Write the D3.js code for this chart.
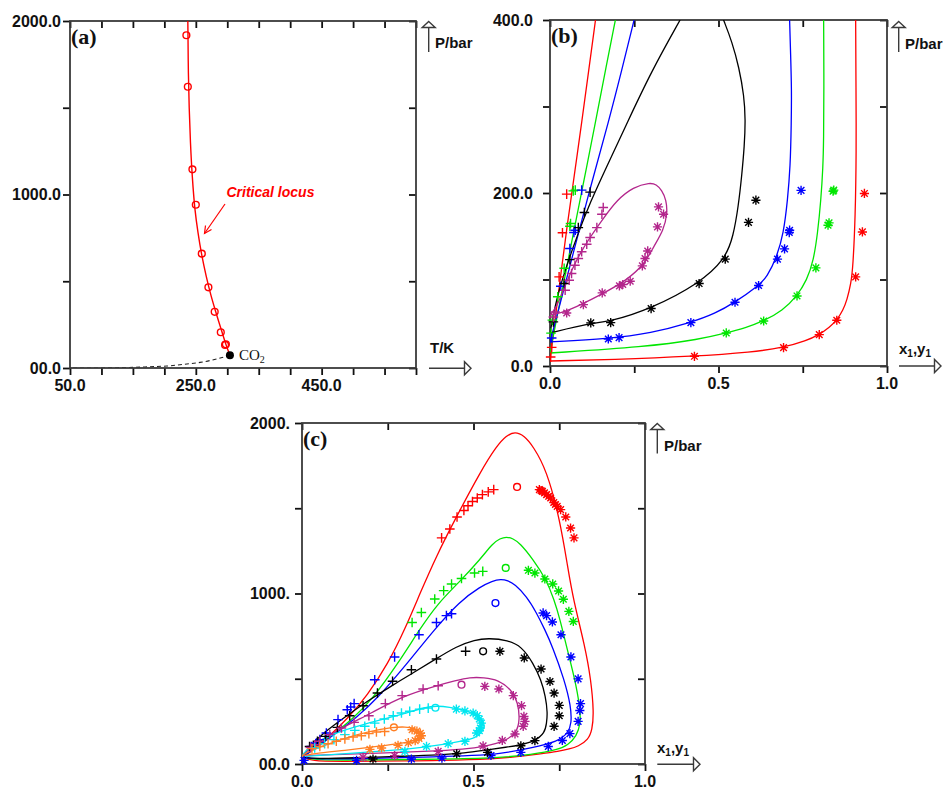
<!DOCTYPE html>
<html>
<head>
<meta charset="utf-8">
<script src="https://cdn.jsdelivr.net/npm/d3@7"></script>
<style>
  body { margin: 0; background: #fff; }
  svg { display: block; }
</style>
</head>
<body>
<svg id="fig" width="943" height="794"></svg>
<script>
// ---------------- Panel (a): critical locus of CO2 + heavy component ----------------
const aCritT = [235, 237.3, 244.6, 250, 259.5, 270, 280, 289.7, 296.5, 297.8];
const aCritP = [1918, 1621, 1145, 941, 659, 465, 324, 206, 133, 137];
const aLocusT = [237.3, 237.6, 238.2, 239.5, 241.5, 244.5, 248.5, 253.5, 259.5, 266.5, 274, 282, 290.5, 297.5, 304.2];
const aLocusP = [2000, 1900, 1700, 1500, 1300, 1100, 920, 780, 650, 530, 420, 320, 220, 140, 73.8];
const aVapT = [304.2, 283.4, 256.8, 230.4, 204, 177.6, 151, 124.6, 98, 50];
const aVapP = [73.8, 51.9, 32.3, 20.8, 11.5, 7.5, 3.5, 1.7, 0.3, 0];
const aCO2 = [304.2, 73.8];
const aXTicks = [50, 100, 150, 200, 250, 300, 350, 400, 450, 500, 550, 600];
const aYTicks = [0, 500, 1000, 1500, 2000];
const aXLabels = [[50, "50.0"], [250, "250.0"], [450, "450.0"]];
const aYLabels = [[0, "00.0"], [1000, "1000.0"], [2000, "2000.0"]];

// ---------------- Panel (b): isotherms, pressure vs. composition ----------------
const bRedDew = [[0,5.8],[0.014,50],[0.03,100],[0.05,160],[0.072,220],[0.095,284],[0.115,342],[0.135,400]];
const bRedBub = [[0,5.8],[0.183,7.4],[0.4286,11.2],[0.6,16],[0.693,21.3],[0.76,29],[0.799,36.3],[0.83,45],[0.851,52.9],[0.87,65],[0.881,76],[0.893,95],[0.899,114.6],[0.906,172],[0.909,250],[0.908,320],[0.907,400]];
const bRedPlus = [[0.002,10.4],[0.005,21.5],[0.027,103],[0.037,154],[0.0495,198.7]];
const bRedStar = [[0.4286,11.2],[0.693,21.3],[0.799,36.3],[0.851,52.9],[0.907,103],[0.927,155],[0.933,199.5]];

const bGreenDew = [[0,15],[0.03,75],[0.06,135],[0.097,207],[0.138,288],[0.166,345],[0.194,400]];
const bGreenBub = [[0,15],[0.282,22],[0.4455,30.9],[0.523,38.2],[0.58,44],[0.634,52],[0.69,64],[0.733,81],[0.762,99],[0.782,122],[0.794,153],[0.804,192],[0.81,230],[0.812,260],[0.813,320],[0.812,400]];
const bGreenPlus = [[0.003,38],[0.007,53],[0.023,80],[0.042,113],[0.059,161.6],[0.061,164.7],[0.069,202.5],[0.075,203.3]];
const bGreenStar = [[0.523,38.2],[0.634,52],[0.733,81],[0.789,113.4],[0.825,162.8],[0.828,165.5],[0.84,202],[0.842,203.3]];

const bBlueDew = [[0,27.8],[0.03,72],[0.066,126],[0.12,207],[0.175,284],[0.213,342],[0.2495,400]];
const bBlueBub = [[0,27.8],[0.173,31.5],[0.3,38],[0.418,50.2],[0.49,60.6],[0.549,73.7],[0.619,93],[0.644,103],[0.673,126],[0.693,153],[0.705,192],[0.713,230],[0.716,280],[0.717,320],[0.714,360],[0.711,400]];
const bBluePlus = [[0.005,32.4],[0.032,92.2],[0.059,135.8],[0.071,154.3],[0.075,157],[0.094,203.3]];
const bBlueStar = [[0.173,31.2],[0.205,32.8],[0.418,50.2],[0.549,73.7],[0.619,93],[0.675,123.5],[0.696,135.4],[0.71,154.3],[0.711,157],[0.745,203]];

const bBlackDew = [[0,38.2],[0.018,76],[0.045,111],[0.08,150],[0.12,190],[0.17,232],[0.23,282],[0.3,340],[0.386,400]];
const bBlackBub = [[0,38.2],[0.121,49.8],[0.18,51.5],[0.3,66.4],[0.4425,95.3],[0.52,123.5],[0.544,150],[0.559,185],[0.569,220],[0.577,255],[0.58,285],[0.576,312],[0.561,345],[0.54,375],[0.515,400]];
const bBlackPlus = [[0.01,51],[0.042,95.3],[0.059,123],[0.084,160],[0.102,177.5],[0.119,201]];
const bBlackStar = [[0.121,49.8],[0.18,50.2],[0.3,66.4],[0.4425,95.3],[0.52,123.5],[0.589,166],[0.611,191.7]];

const bPurpleLoop = [[0,58.7],[0.0495,62.5],[0.158,83.8],[0.228,99.2],[0.282,118.5],[0.307,137.7],[0.337,157],[0.3485,176.3],[0.345,192],[0.332,203.3],[0.315,210],[0.297,212],[0.2475,207],[0.198,191.7],[0.158,170.5],[0.119,149],[0.089,130],[0.064,110.7],[0.0396,87.6],[0.02,68.3],[0,58.7]];
const bPurplePlus = [[0.01,56.7],[0.015,62.5],[0.045,87.6],[0.057,99.2],[0.064,107],[0.074,116.5],[0.084,124.3],[0.094,132],[0.109,140.8],[0.119,148.6],[0.139,160],[0.154,175.5],[0.158,183.3]];
const bPurpleStar = [[0.0495,61.3],[0.099,71],[0.155,84.5],[0.206,92.6],[0.216,94.2],[0.238,98],[0.274,115.7],[0.282,124.3],[0.29,133],[0.319,160.8],[0.337,175.5],[0.322,184]];

const bXTicks = [0, 0.25, 0.5, 0.75, 1];
const bYTicks = [0, 100, 200, 300, 400];
const bXLabels = [[0, "0.0"], [0.5, "0.5"], [1, "1.0"]];
const bYLabels = [[0, "0.0"], [200, "200.0"], [400, "400.0"]];

// ---------------- Panel (c): closed isotherm loops ----------------
const cRedLoop = [[0,40],[0.03,18],[0.1,15],[0.3,17],[0.5,24],[0.62,40],[0.7,60],[0.747,74],[0.78,88],[0.805,103],[0.835,143],[0.846,201],[0.851,299],[0.8425,494],[0.825,690],[0.791,964],[0.775,1150],[0.752,1433],[0.713,1726],[0.674,1863],[0.648,1925],[0.621,1950],[0.595,1925],[0.567,1863],[0.5235,1726],[0.4456,1433],[0.392,1220],[0.346,1010],[0.3,790],[0.251,590],[0.19,400],[0.134,270],[0.086,175],[0.042,100],[0.012,55],[0,40]];
const cGreenLoop = [[0,40],[0.04,22],[0.2,24],[0.4,28],[0.572,35],[0.669,55],[0.747,84],[0.776,113],[0.8,162],[0.813,240],[0.81,338],[0.796,494],[0.771,690],[0.752,850],[0.735,964],[0.712,1082],[0.674,1199],[0.635,1296],[0.615,1322],[0.596,1333],[0.577,1322],[0.557,1296],[0.519,1199],[0.46,1070],[0.395,940],[0.343,790],[0.28,590],[0.205,380],[0.15,270],[0.095,180],[0.045,103],[0.012,55],[0,40]];
const cBlueLoop = [[0,40],[0.04,28],[0.2,33],[0.4,42],[0.5,50],[0.572,58],[0.67,94],[0.747,133],[0.776,182],[0.786,240],[0.784,338],[0.765,494],[0.73,690],[0.708,788],[0.684,886],[0.655,983],[0.62,1055],[0.6,1076],[0.58,1084],[0.555,1074],[0.52,1040],[0.46,955],[0.382,780],[0.305,585],[0.22,385],[0.16,275],[0.1,180],[0.045,103],[0.012,55],[0,40]];
const cBlackLoop = [[0,40],[0.04,30],[0.15,36],[0.3,46],[0.4,53],[0.476,64],[0.53,80],[0.6,100],[0.63,109],[0.679,133],[0.708,182],[0.713,240],[0.716,299],[0.71,396],[0.697,494],[0.674,592],[0.64,690],[0.6,726],[0.545,738],[0.504,729],[0.45,690],[0.387,612],[0.324,534],[0.27,470],[0.193,372],[0.125,275],[0.061,180],[0.022,103],[0,40]];
const cPurpleLoop = [[0,42],[0.027,53],[0.173,60],[0.368,74],[0.475,86],[0.533,103],[0.591,133],[0.626,182],[0.635,260],[0.63,358],[0.611,436],[0.572,494],[0.53,507],[0.49,509],[0.446,488],[0.397,462],[0.29,396],[0.2025,299],[0.125,221],[0.057,143],[0.0175,84],[0,42]];
const cCyanLoop = [[0,44],[0.125,60],[0.27,80],[0.348,97],[0.426,119],[0.475,137],[0.504,152],[0.522,180],[0.532,215],[0.53,245],[0.52,272],[0.5,298],[0.47,318],[0.43,334],[0.392,342],[0.355,330],[0.319,309],[0.27,279],[0.173,230],[0.095,182],[0.037,123],[0.008,74],[0,44]];
const cOrangeLoop = [[0,45],[0.027,60],[0.125,80],[0.222,103],[0.3,125],[0.319,133],[0.343,152],[0.35,168],[0.348,182],[0.329,211],[0.3,218],[0.27,217],[0.193,191],[0.125,152],[0.057,103],[0.008,64],[0,45]];

const cRedPlus = [[0.407,1326],[0.431,1378],[0.452,1449],[0.472,1487],[0.484,1515],[0.497,1540],[0.511,1560],[0.526,1580],[0.543,1596],[0.559,1609]];
const cRedCrit = [[0.627,1625]];
const cRedStar = [[0.692,1609],[0.697,1604],[0.701,1599],[0.707,1590],[0.713,1580],[0.719,1570],[0.725,1560],[0.734,1534],[0.739,1522],[0.744,1511],[0.754,1492],[0.769,1449],[0.783,1384],[0.793,1326]];
const cGreenPlus = [[0.321,830],[0.348,889],[0.387,968],[0.413,1017],[0.436,1056],[0.465,1088],[0.503,1120],[0.527,1130]];
const cGreenCrit = [[0.594,1150]];
const cGreenStar = [[0.66,1136],[0.679,1120],[0.708,1085],[0.731,1056],[0.748,1015],[0.762,966],[0.778,895],[0.791,836]];
const cBluePlus = [[0.027,103],[0.042,123],[0.052,143],[0.071,182],[0.105,260],[0.132,318],[0.142,334],[0.152,354],[0.212,494],[0.27,628],[0.341,758],[0.392,830],[0.421,870],[0.436,881]];
const cBlueCrit = [[0.564,944]];
const cBlueStar = [[0.006,21],[0.159,21],[0.319,29],[0.408,35],[0.551,50],[0.638,68],[0.718,103],[0.759,138],[0.781,178],[0.805,250],[0.81,314],[0.812,354],[0.805,499],[0.784,628],[0.755,758],[0.73,833],[0.713,870],[0.703,886]];
const cBlackPlus = [[0.022,103],[0.045,133],[0.068,162],[0.103,215],[0.139,283],[0.178,342],[0.22,416],[0.264,485],[0.319,553],[0.392,616],[0.477,661]];
const cBlackCrit = [[0.528,661]];
const cBlackStar = [[0.207,29],[0.451,60],[0.541,68],[0.638,107],[0.679,137],[0.735,221],[0.75,283],[0.75,344],[0.735,416],[0.723,484],[0.697,557],[0.648,622],[0.577,661]];
const cPurplePlus = [[0.025,97],[0.037,113],[0.052,133],[0.081,172],[0.115,211],[0.152,244],[0.195,283],[0.243,354],[0.292,401],[0.353,440],[0.397,459]];
const cPurpleCrit = [[0.465,465]];
const cPurpleStar = [[0.178,39],[0.27,49],[0.397,74],[0.528,106],[0.584,138],[0.621,176],[0.645,221],[0.65,250],[0.647,279],[0.64,342],[0.616,401],[0.574,440],[0.533,455]];
const cCyanPlus = [[0.037,94],[0.066,119],[0.093,143],[0.125,172],[0.154,197],[0.183,221],[0.212,240],[0.24,264],[0.266,283],[0.29,299],[0.314,309],[0.343,322],[0.368,328]];
const cCyanCrit = [[0.389,330]];
const cCyanStar = [[0.3,74],[0.363,103],[0.426,119],[0.475,133],[0.509,182],[0.517,196],[0.52,211],[0.523,240],[0.517,264],[0.511,284],[0.499,299],[0.475,311],[0.45,322]];
const cOrangePlus = [[0.029,90],[0.052,103],[0.076,119],[0.1,133],[0.125,147],[0.149,158],[0.173,166],[0.195,178],[0.217,188],[0.241,191]];
const cOrangeCrit = [[0.268,215]];
const cOrangeStar = [[0.198,86],[0.232,94],[0.28,110],[0.31,125],[0.33,137],[0.341,150],[0.348,166],[0.345,180],[0.335,193],[0.321,201]];

const cXTicks = [0, 0.25, 0.5, 0.75, 1];
const cYTicks = [0, 500, 1000, 1500, 2000];
const cXLabels = [[0, "0.0"], [0.5, "0.5"], [1, "1.0"]];
const cYLabels = [[0, "00.0"], [1000, "1000."], [2000, "2000."]];

// ---------------- Styling ----------------
const colRed = "#ff0000", colGreen = "#00e600", colBlue = "#0000ff", colBlack = "#000000",
      colPurple = "#b3268c", colCyan = "#00e6f0", colOrange = "#ff7f24";
const fontSans = '"Liberation Sans", Arial, Helvetica, sans-serif';
const fontSerif = '"Liberation Serif", "Times New Roman", Times, serif';
const axisColor = "#3a3a3a";

const svg = d3.select("#fig");

const panelA = { left: 70, right: 416, top: 21, bottom: 368, labelPad: 5 };
const panelB = { left: 550, right: 887, top: 20, bottom: 366, labelPad: 13 };
const panelC = { left: 302, right: 645, top: 423, bottom: 764, labelPad: 8 };

let clipCount = 0;
function makeClip(p) {
  const id = "clip" + (clipCount++);
  svg.append("clipPath").attr("id", id)
    .append("rect").attr("x", p.left).attr("y", p.top)
    .attr("width", p.right - p.left).attr("height", p.bottom - p.top);
  return "url(#" + id + ")";
}

function drawAxes(p, x, y, xTicks, yTicks, xLabels, yLabels) {
  const g = svg.append("g");
  const tl = 7;
  g.append("g").attr("transform", `translate(0,${p.bottom})`)
    .call(d3.axisBottom(x).tickValues(xTicks).tickSize(tl).tickSizeOuter(0).tickFormat(""));
  g.append("g").attr("transform", `translate(0,${p.top})`)
    .call(d3.axisTop(x).tickValues(xTicks).tickSize(-tl).tickSizeOuter(0).tickFormat(""));
  g.append("g").attr("transform", `translate(${p.left},0)`)
    .call(d3.axisLeft(y).tickValues(yTicks).tickSize(tl).tickSizeOuter(0).tickFormat(""));
  g.append("g").attr("transform", `translate(${p.right},0)`)
    .call(d3.axisRight(y).tickValues(yTicks).tickSize(-tl).tickSizeOuter(0).tickFormat(""));
  g.selectAll(".domain").remove();
  g.selectAll(".tick line").attr("stroke", "#111").attr("stroke-width", 1.8);

  svg.append("rect").attr("x", p.left).attr("y", p.top)
    .attr("width", p.right - p.left).attr("height", p.bottom - p.top)
    .attr("fill", "none").attr("stroke", axisColor).attr("stroke-width", 1.8);

  svg.append("g").selectAll("text").data(xLabels).join("text")
    .attr("x", d => x(d[0])).attr("y", p.bottom + 23)
    .attr("text-anchor", "middle")
    .attr("font-family", fontSans).attr("font-weight", "bold").attr("font-size", 16)
    .attr("fill", "#111").text(d => d[1]);
  svg.append("g").selectAll("text").data(yLabels).join("text")
    .attr("x", p.left - tl - p.labelPad + 3).attr("y", d => y(d[0])).attr("dy", "0.36em")
    .attr("text-anchor", "end")
    .attr("font-family", fontSans).attr("font-weight", "bold").attr("font-size", 16)
    .attr("fill", "#111").text(d => d[1]);
}

// Hollow-headed arrows used for the axis quantity labels
function upArrow(x0, yTop, yBottom) {
  const g = svg.append("g").attr("stroke", axisColor).attr("stroke-width", 1.4);
  g.append("line").attr("x1", x0).attr("x2", x0).attr("y1", yTop + 5).attr("y2", yBottom);
  g.append("path").attr("d", `M${x0},${yTop} L${x0 + 6.5},${yTop + 6} L${x0 - 6.5},${yTop + 6} Z`)
    .attr("fill", "#fff");
}
function rightArrow(xLeft, xTip, y0) {
  const g = svg.append("g").attr("stroke", axisColor).attr("stroke-width", 1.4);
  g.append("line").attr("x1", xLeft).attr("x2", xTip - 6).attr("y1", y0).attr("y2", y0);
  g.append("path").attr("d", `M${xTip},${y0} L${xTip - 6.5},${y0 - 6.5} L${xTip - 6.5},${y0 + 6.5} Z`)
    .attr("fill", "#fff");
}
function sansLabel(x0, y0, txt, size) {
  return svg.append("text").attr("x", x0).attr("y", y0)
    .attr("font-family", fontSans).attr("font-weight", "bold").attr("font-size", size || 15)
    .attr("fill", "#111").text(txt);
}
function compLabel(x0, y0) {
  const t = svg.append("text").attr("x", x0).attr("y", y0)
    .attr("font-family", fontSans).attr("font-weight", "bold").attr("font-size", 15).attr("fill", "#111");
  t.append("tspan").text("x");
  t.append("tspan").attr("font-size", 10).attr("dy", 3).text("1");
  t.append("tspan").attr("dy", -3).text(",y");
  t.append("tspan").attr("font-size", 10).attr("dy", 3).text("1");
}
function panelTag(x0, y0, txt) {
  svg.append("text").attr("x", x0).attr("y", y0)
    .attr("font-family", fontSerif).attr("font-weight", "bold").attr("font-size", 22)
    .attr("fill", "#111").text(txt);
}

// Marker symbols
function plusPath(r) { return `M${-r},0H${r}M0,${-r}V${r}`; }
function starPath(r) {
  const d = r * 0.72;
  return `M${-r},0H${r}M0,${-r}V${r}M${-d},${-d}L${d},${d}M${-d},${d}L${d},${-d}`;
}
function drawMarkers(pts, x, y, color, kind) {
  const g = svg.append("g").attr("stroke", color).attr("stroke-width", 1.4).attr("fill", "none");
  if (kind === "circle") {
    g.selectAll("circle").data(pts).join("circle")
      .attr("cx", d => x(d[0])).attr("cy", d => y(d[1])).attr("r", 3.4);
  } else {
    const dpath = kind === "plus" ? plusPath(4.8) : starPath(4.6);
    g.selectAll("path").data(pts).join("path")
      .attr("transform", d => `translate(${x(d[0])},${y(d[1])})`).attr("d", dpath);
  }
}
// Model curves: a smoothing B-spline through the traced points
function drawCurve(pts, x, y, color, clip, width, curve) {
  const line = d3.line().x(d => x(d[0])).y(d => y(d[1])).curve(curve || d3.curveBasis);
  svg.append("path").datum(pts).attr("d", line)
    .attr("fill", "none").attr("stroke", color).attr("stroke-width", width || 1.3)
    .attr("clip-path", clip);
}

// ================= Panel (a) =================
{
  const x = d3.scaleLinear().domain([50, 600]).range([panelA.left, panelA.right]);
  const y = d3.scaleLinear().domain([0, 2000]).range([panelA.bottom, panelA.top]);
  const clip = makeClip(panelA);

  // CO2 vapour-pressure branch (dashed)
  const vap = d3.zip(aVapT, aVapP);
  svg.append("path").datum(vap)
    .attr("d", d3.line().x(d => x(d[0])).y(d => y(d[1])).curve(d3.curveMonotoneX))
    .attr("fill", "none").attr("stroke", "#222").attr("stroke-width", 1.1)
    .attr("stroke-dasharray", "4,3").attr("clip-path", clip);

  drawAxes(panelA, x, y, aXTicks, aYTicks, aXLabels, aYLabels);

  drawCurve(d3.zip(aLocusT, aLocusP), x, y, colRed, clip, 1.4, d3.curveCatmullRom.alpha(0.5));
  drawMarkers(d3.zip(aCritT, aCritP), x, y, colRed, "circle");

  svg.append("circle").attr("cx", x(aCO2[0])).attr("cy", y(aCO2[1])).attr("r", 4).attr("fill", "#000");
  const co2 = svg.append("text").attr("x", x(aCO2[0]) + 9).attr("y", y(aCO2[1]) + 5)
    .attr("font-family", fontSerif).attr("font-size", 15).attr("fill", "#111");
  co2.append("tspan").text("CO");
  co2.append("tspan").attr("font-size", 10).attr("dy", 3).text("2");

  svg.append("text").attr("x", 226.5).attr("y", 197)
    .attr("font-family", fontSans).attr("font-weight", "bold").attr("font-style", "italic")
    .attr("font-size", 14).attr("fill", colRed).text("Critical locus");
  const ax = svg.append("g").attr("stroke", colRed).attr("stroke-width", 1.2).attr("fill", "none");
  ax.append("line").attr("x1", 225).attr("y1", 204).attr("x2", 204.5).attr("y2", 233.5);
  ax.append("path").attr("d", "M205.5,225.5 L204.5,233.5 L211.5,229.5");

  panelTag(71, 44, "(a)");
  upArrow(428.7, 21.5, 52);
  sansLabel(435, 48, "P/bar");
  rightArrow(429, 471, 368.3);
  sansLabel(430, 353, "T/K");
}

// ================= Panel (b) =================
{
  const x = d3.scaleLinear().domain([0, 1]).range([panelB.left, panelB.right]);
  const y = d3.scaleLinear().domain([0, 400]).range([panelB.bottom, panelB.top]);
  const clip = makeClip(panelB);
  drawAxes(panelB, x, y, bXTicks, bYTicks, bXLabels, bYLabels);

  const bSeries = [
    { color: colRed, lines: [bRedDew, bRedBub], plus: bRedPlus, star: bRedStar },
    { color: colGreen, lines: [bGreenDew, bGreenBub], plus: bGreenPlus, star: bGreenStar },
    { color: colBlue, lines: [bBlueDew, bBlueBub], plus: bBluePlus, star: bBlueStar },
    { color: colBlack, lines: [bBlackDew, bBlackBub], plus: bBlackPlus, star: bBlackStar },
    { color: colPurple, lines: [bPurpleLoop], plus: bPurplePlus, star: bPurpleStar }
  ];
  bSeries.forEach(s => s.lines.forEach(l => drawCurve(l, x, y, s.color, clip)));
  bSeries.forEach(s => {
    drawMarkers(s.plus, x, y, s.color, "plus");
    drawMarkers(s.star, x, y, s.color, "star");
  });

  panelTag(551, 43, "(b)");
  upArrow(898.7, 21.5, 52);
  sansLabel(905, 49, "P/bar");
  rightArrow(899, 941, 366);
  compLabel(899, 354);
}

// ================= Panel (c) =================
{
  const x = d3.scaleLinear().domain([0, 1]).range([panelC.left, panelC.right]);
  const y = d3.scaleLinear().domain([0, 2000]).range([panelC.bottom, panelC.top]);
  const clip = makeClip(panelC);
  drawAxes(panelC, x, y, cXTicks, cYTicks, cXLabels, cYLabels);

  const cSeries = [
    { color: colRed, loop: cRedLoop, plus: cRedPlus, crit: cRedCrit, star: cRedStar },
    { color: colGreen, loop: cGreenLoop, plus: cGreenPlus, crit: cGreenCrit, star: cGreenStar },
    { color: colBlue, loop: cBlueLoop, plus: cBluePlus, crit: cBlueCrit, star: cBlueStar },
    { color: colBlack, loop: cBlackLoop, plus: cBlackPlus, crit: cBlackCrit, star: cBlackStar },
    { color: colPurple, loop: cPurpleLoop, plus: cPurplePlus, crit: cPurpleCrit, star: cPurpleStar },
    { color: colCyan, loop: cCyanLoop, plus: cCyanPlus, crit: cCyanCrit, star: cCyanStar },
    { color: colOrange, loop: cOrangeLoop, plus: cOrangePlus, crit: cOrangeCrit, star: cOrangeStar }
  ];
  cSeries.forEach(s => drawCurve(s.loop, x, y, s.color, clip));
  cSeries.forEach(s => {
    drawMarkers(s.plus, x, y, s.color, "plus");
    drawMarkers(s.star, x, y, s.color, "star");
    drawMarkers(s.crit, x, y, s.color, "circle");
  });

  panelTag(303, 446, "(c)");
  upArrow(657.3, 423.5, 453.5);
  sansLabel(664, 451, "P/bar");
  rightArrow(657.3, 700, 764.3);
  compLabel(657, 753);
}
</script>
</body>
</html>
